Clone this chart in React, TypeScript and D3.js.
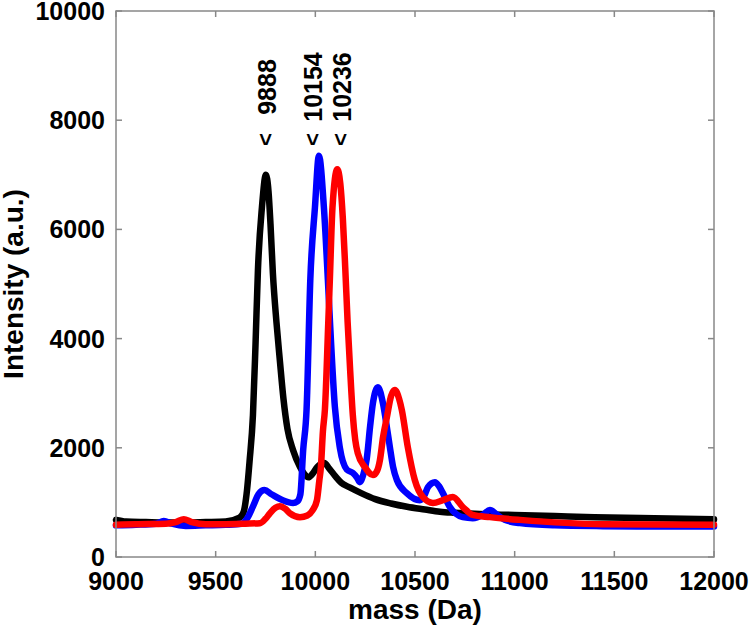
import React from 'react';
import * as d3 from 'd3';

// mass (Da) / intensity (a.u.)
const blackTrace: [number, number][] = [
  [9000, 680], [9050, 650], [9150, 640], [9300, 630], [9450, 640], [9550, 650],
  [9620, 720], [9640, 820], [9655, 1150], [9670, 1750], [9687, 2600], [9700, 3900],
  [9712, 5250], [9732, 6400], [9752, 7000], [9765, 6700], [9775, 6100], [9787, 5200],
  [9805, 4300], [9822, 3600], [9840, 2900], [9860, 2350], [9888, 1960], [9923, 1650],
  [9945, 1520], [9965, 1460], [9985, 1520], [10010, 1650], [10045, 1720], [10070, 1620],
  [10100, 1480], [10130, 1360], [10175, 1270], [10230, 1170], [10300, 1060], [10380, 980],
  [10460, 920], [10550, 870], [10625, 830], [10700, 810], [10800, 790], [11000, 770],
  [11200, 750], [11400, 730], [11700, 710], [12000, 690],
];

const blueTrace: [number, number][] = [
  [9000, 580], [9100, 590], [9200, 610], [9240, 660], [9280, 610], [9350, 570],
  [9450, 580], [9550, 590], [9630, 610], [9660, 720], [9690, 950], [9715, 1150],
  [9745, 1225], [9780, 1150], [9837, 1040], [9888, 990], [9910, 1020], [9925, 1150],
  [9939, 1960], [9956, 2700], [9975, 5100], [9998, 6400], [10018, 7350], [10043, 6400],
  [10063, 5070], [10073, 4340], [10098, 2750], [10123, 2000], [10158, 1600], [10188, 1540],
  [10210, 1450], [10223, 1370], [10240, 1500], [10258, 1800], [10275, 2400], [10289, 2820],
  [10314, 3110], [10339, 2820], [10360, 2350], [10374, 2010], [10390, 1650], [10409, 1410],
  [10459, 1170], [10524, 1040], [10550, 1150], [10565, 1280], [10600, 1370], [10620, 1300],
  [10640, 1170], [10675, 915], [10740, 730], [10790, 710], [10840, 770], [10876, 860],
  [10910, 780], [10950, 680], [11026, 620], [11200, 580], [11442, 565], [11700, 560],
  [12000, 560],
];

const redTrace: [number, number][] = [
  [9000, 590], [9100, 600], [9250, 610], [9300, 640], [9340, 690], [9380, 640],
  [9450, 600], [9550, 600], [9650, 610], [9722, 620], [9750, 700], [9772, 800],
  [9800, 900], [9822, 930], [9850, 880], [9873, 800], [9923, 730], [9960, 760],
  [9985, 850], [10008, 1040], [10020, 1400], [10028, 1650], [10038, 2300], [10048, 2700],
  [10065, 4300], [10073, 5100], [10086, 6400], [10110, 7100], [10125, 6850], [10138, 6200],
  [10150, 5300], [10162, 4300], [10175, 3400], [10188, 2600], [10200, 2150], [10213, 1900],
  [10248, 1650], [10289, 1500], [10310, 1580], [10324, 1775], [10340, 2200], [10359, 2560],
  [10380, 2950], [10399, 3060], [10420, 2900], [10434, 2690], [10464, 2010], [10499, 1410],
  [10539, 1100], [10590, 990], [10640, 1040], [10690, 1100], [10740, 915], [10790, 770],
  [10876, 730], [11026, 680], [11442, 600], [12000, 590],
];

const series = [
  { name: 'black', color: '#000000', trace: blackTrace },
  { name: 'blue', color: '#0000ff', trace: blueTrace },
  { name: 'red', color: '#ff0000', trace: redTrace },
];

const peakLabels = ['9888', '10154', '10236'];
const peakMass = [9750, 9985, 10128];

const xTicks = [9000, 9500, 10000, 10500, 11000, 11500, 12000];
const yTicks = [0, 2000, 4000, 6000, 8000, 10000];

const margin = { top: 11, right: 36, bottom: 74, left: 116 };
const W = 750, H = 631;
const font = '"Liberation Sans", Arial, sans-serif';

export default function App() {
  const x = d3.scaleLinear().domain([9000, 12000]).range([margin.left, W - margin.right]);
  const y = d3.scaleLinear().domain([0, 10000]).range([H - margin.bottom, margin.top]);
  const line = d3.line<[number, number]>()
    .x(d => x(d[0]))
    .y(d => y(d[1]))
    .curve(d3.curveMonotoneX);

  const x0 = x.range()[0], x1 = x.range()[1];
  const y0 = y.range()[0], y1 = y.range()[1];
  const tickLen = 6;
  const axisColor = '#888888';

  return (
    <svg width={W} height={H} style={{ position: 'absolute', left: 0, top: 0, background: '#fff' }}
      fontFamily={font} fontWeight="bold">
      {series.map(s => (
        <path key={s.name} d={line(s.trace) || ''} fill="none" stroke={s.color}
          strokeWidth={6.5} strokeLinejoin="round" strokeLinecap="round" />
      ))}

      {/* box and inward ticks */}
      <rect x={x0} y={y1} width={x1 - x0} height={y0 - y1} fill="none" stroke={axisColor} strokeWidth={1.5} />
      {xTicks.map(t => (
        <g key={'x' + t}>
          <line x1={x(t)} x2={x(t)} y1={y0} y2={y0 - tickLen} stroke={axisColor} strokeWidth={1.5} />
          <line x1={x(t)} x2={x(t)} y1={y1} y2={y1 + tickLen} stroke={axisColor} strokeWidth={1.5} />
          <text x={x(t)} y={590} textAnchor="middle" fontSize={25} fill="#000">{t}</text>
        </g>
      ))}
      {yTicks.map(t => (
        <g key={'y' + t}>
          <line x1={x0} x2={x0 + tickLen} y1={y(t)} y2={y(t)} stroke={axisColor} strokeWidth={1.5} />
          <line x1={x1} x2={x1 - tickLen} y1={y(t)} y2={y(t)} stroke={axisColor} strokeWidth={1.5} />
          <text x={105} y={y(t)} dy="0.36em" textAnchor="end" fontSize={25} fill="#000">{t}</text>
        </g>
      ))}

      <text x={(x0 + x1) / 2} y={619} textAnchor="middle" fontSize={28} fill="#000">mass (Da)</text>
      <text transform={`translate(23,${(y0 + y1) / 2}) rotate(-90)`} textAnchor="middle" fontSize={28} fill="#000">
        Intensity (a.u.)
      </text>

      {peakLabels.map((lab, i) => (
        <g key={lab}>
          <text transform={`translate(${x(peakMass[i])},146) rotate(-90)`} dy="0.33em"
            textAnchor="start" fontSize={22} fill="#000">{'<'}</text>
          <text transform={`translate(${x(peakMass[i]) + 1},87) rotate(-90)`} dy="0.36em"
            textAnchor="middle" fontSize={25} fill="#000">{lab}</text>
        </g>
      ))}
    </svg>
  );
}
